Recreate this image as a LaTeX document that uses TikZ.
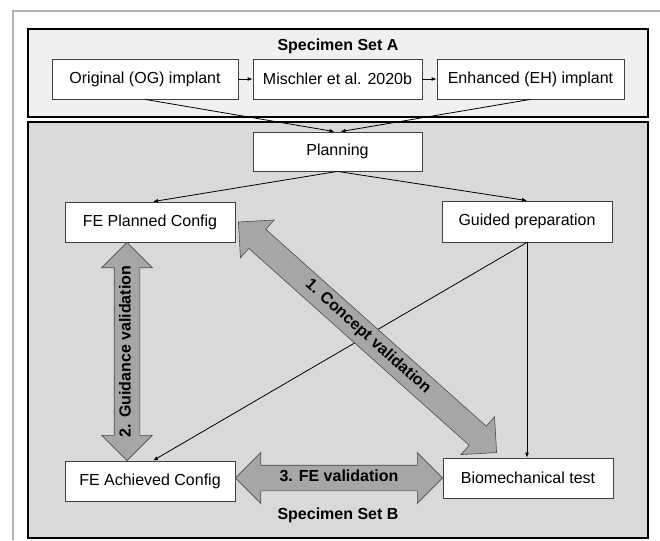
\documentclass[tikz,border=0pt]{standalone}
\usepackage{fontspec}
\setmainfont{Liberation Sans}
\usetikzlibrary{arrows.meta,shapes.arrows,calc}

\tikzset{
  box/.style={draw=black!75,fill=white,line width=0.8pt,minimum width=170pt,minimum height=40pt,inner sep=0pt,font=\fontsize{16}{19}\selectfont},
  setbox/.style={draw=black,line width=2.5pt},
  settitle/.style={font=\fontsize{16}{19}\selectfont\bfseries},
  fatarrow/.style={double arrow,draw=black!70,fill=black!35,line width=0.6pt,double arrow head extend=12.5pt,inner xsep=0pt,inner ysep=5pt,text height=11pt,text depth=4pt,font=\fontsize{16}{19}\selectfont\bfseries},
  link/.style={->,line width=0.8pt},
  >={Latex[length=5pt,width=4pt]}
}

\begin{document}
\begin{tikzpicture}[x=1pt,y=-1pt]
\useasboundingbox (0,0) rectangle (660,540);
\draw[black!30,line width=1.5pt](13,540)--(13,11)--(660,11);
% the two specimen sets
\draw[setbox,fill=black!6](28,29) rectangle (648,117);
\draw[setbox,fill=black!15](28,122) rectangle (648,538);
\node[settitle] (seta) at (338,46) {Specimen Set A};
\node[settitle] (setb) at (338,515) {Specimen Set B};

% nodes
\node[box,minimum width=186pt] (og) at (145,79) {Original (OG) implant};
\node[box,minimum width=169pt] (mis) at (337.5,79) {Mischler et al. 2020b};
\node[box,minimum width=187pt] (eh) at (530.5,79) {Enhanced (EH) implant};
\node[box,minimum width=169pt,minimum height=39pt] (plan) at (337.5,151.5) {Planning};
\node[box] (fepl) at (150,222) {FE Planned Config};
\node[box,minimum height=41pt] (guide) at (527,221.5) {Guided preparation};
\node[box] (feac) at (150,481) {FE Achieved Config};
\node[box] (bio) at (528,478) {Biomechanical test};

% links
\draw[link](og)--(mis);
\draw[link](mis)--(eh);
\draw[link](og.south)--([xshift=-3pt]plan.north);
\draw[link](eh.south)--([xshift=3pt]plan.north);
\draw[link](plan.south)--([xshift=3pt]fepl.north);
\draw[link](plan.south)--(guide.north);
\draw[link](guide.south)--(guide.south |- bio.north);
\draw[link](guide.south)--([xshift=3pt]feac.north);

% validation arrows
\coordinate (cta) at ([xshift=3pt]fepl.east);
\coordinate (ctb) at ($(bio.north west)+(54,-5)$);
\coordinate (gva) at ([xshift=-23pt]feac.north);
\coordinate (gvb) at ([xshift=-23pt]fepl.south);
\coordinate (fva) at (feac.east |- bio.west);
\coordinate (fvb) at (bio.west);
\path let \p1=(cta), \p2=(ctb), \n1={veclen(\x2-\x1,\y2-\y1)}, \n2={atan2(\y2-\y1,\x2-\x1)} in
  node[fatarrow,minimum height=\n1,rotate=\n2] (concept) at ($(cta)!0.5!(ctb)$) {1. Concept validation};
\path let \p1=(gva), \p2=(gvb), \n1={veclen(\x2-\x1,\y2-\y1)}, \n2={atan2(\y2-\y1,\x2-\x1)} in
  node[fatarrow,minimum height=\n1,rotate=\n2] (guidance) at ($(gva)!0.5!(gvb)$) {2. Guidance validation};
\path let \p1=(fva), \p2=(fvb), \n1={veclen(\x2-\x1,\y2-\y1)} in
  node[fatarrow,minimum height=\n1] (fev) at ($(fva)!0.5!(fvb)$) {3. FE validation};
\end{tikzpicture}
\end{document}
